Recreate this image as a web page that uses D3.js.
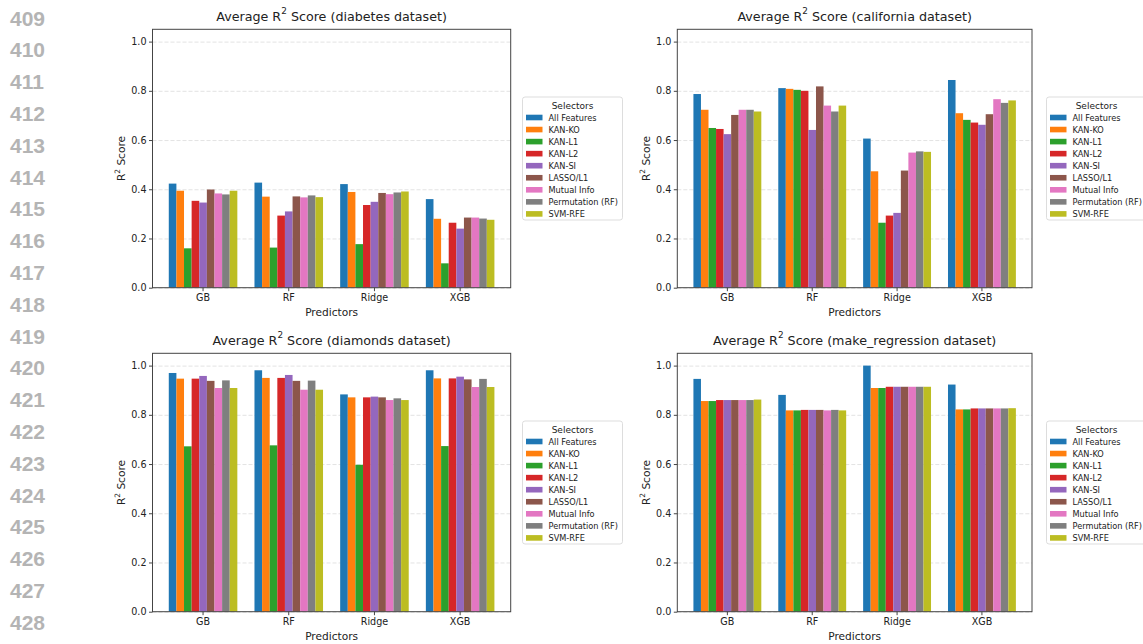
<!DOCTYPE html>
<html>
<head>
<meta charset="utf-8">
<script src="https://cdn.jsdelivr.net/npm/d3@7"></script>
<style>
  body { margin: 0; background: #fff; }
  svg { display: block; }
  .axis text { font-family: "DejaVu Sans", sans-serif; fill: #222; }
  .axis line { stroke: #444; }
  .axis .domain { display: none; }
  .grid line { stroke: #dcdcdc; stroke-width: 0.8; stroke-dasharray: 4,2; }
  .grid .domain, .grid text { display: none; }
</style>
</head>
<body>
<script>
// ---- data ----
const predictors = ["GB", "RF", "Ridge", "XGB"];
const selectors = ["All Features", "KAN-KO", "KAN-L1", "KAN-L2", "KAN-SI",
  "LASSO/L1", "Mutual Info", "Permutation (RF)", "SVM-RFE"];
const yTicks = [0.0, 0.2, 0.4, 0.6, 0.8, 1.0];

// one row per predictor, one value per selector
const diabetesScores = [
  [0.423, 0.394, 0.160, 0.353, 0.346, 0.399, 0.383, 0.379, 0.394],
  [0.427, 0.370, 0.163, 0.293, 0.310, 0.371, 0.367, 0.375, 0.368],
  [0.421, 0.389, 0.177, 0.336, 0.349, 0.385, 0.380, 0.387, 0.391],
  [0.360, 0.280, 0.099, 0.264, 0.240, 0.285, 0.285, 0.281, 0.276]
];
const californiaScores = [
  [0.787, 0.723, 0.649, 0.645, 0.624, 0.702, 0.723, 0.723, 0.716],
  [0.811, 0.808, 0.804, 0.800, 0.641, 0.818, 0.740, 0.716, 0.740],
  [0.606, 0.473, 0.264, 0.293, 0.304, 0.476, 0.549, 0.554, 0.552],
  [0.844, 0.709, 0.682, 0.671, 0.662, 0.705, 0.766, 0.751, 0.761]
];
const diamondsScores = [
  [0.970, 0.947, 0.672, 0.947, 0.958, 0.938, 0.909, 0.940, 0.909],
  [0.981, 0.950, 0.676, 0.950, 0.962, 0.938, 0.902, 0.939, 0.902],
  [0.883, 0.871, 0.597, 0.871, 0.874, 0.871, 0.860, 0.867, 0.860],
  [0.981, 0.948, 0.673, 0.948, 0.955, 0.944, 0.913, 0.946, 0.913]
];
const makeRegressionScores = [
  [0.946, 0.856, 0.856, 0.860, 0.860, 0.860, 0.860, 0.860, 0.862],
  [0.881, 0.818, 0.818, 0.820, 0.820, 0.820, 0.818, 0.820, 0.818],
  [1.000, 0.909, 0.909, 0.914, 0.914, 0.914, 0.914, 0.914, 0.914],
  [0.923, 0.822, 0.822, 0.826, 0.826, 0.826, 0.826, 0.826, 0.827]
];
const datasetNames = ["diabetes", "california", "diamonds", "make_regression"];
const lineNumbers = d3.range(409, 429);

const colors = ["#1f77b4", "#ff7f0e", "#2ca02c", "#d62728", "#9467bd",
  "#8c564b", "#e377c2", "#7f7f7f", "#bcbd22"];

// ---- layout ----
const W = 1143, H = 644;
const svg = d3.select("body").append("svg").attr("width", W).attr("height", H);

// page line numbers
svg.append("g").selectAll("text")
  .data(lineNumbers)
  .join("text")
  .attr("x", 10)
  .attr("y", (d, i) => 18 + i * 31.8)
  .attr("dominant-baseline", "central")
  .style("font-family", "'Liberation Sans', Arial, sans-serif")
  .style("font-weight", "bold")
  .style("font-size", "21px")
  .style("fill", "#b4b4b4")
  .text(d => d);

const panels = [
  { name: datasetNames[0], values: diabetesScores, left: 152.5, right: 510.7, top: 29.3, bottom: 287.7, legendX: 522.5 },
  { name: datasetNames[1], values: californiaScores, left: 677.3, right: 1032, top: 29.3, bottom: 287.7, legendX: 1046.5 },
  { name: datasetNames[2], values: diamondsScores, left: 152.5, right: 510.7, top: 353.3, bottom: 611.7, legendX: 522.5 },
  { name: datasetNames[3], values: makeRegressionScores, left: 677.3, right: 1032, top: 353.3, bottom: 611.7, legendX: 1046.5 }
];

panels.forEach(drawPanel);

function drawPanel(p) {
  const w = p.right - p.left, h = p.bottom - p.top;
  const g = svg.append("g").attr("transform", `translate(${p.left},${p.top})`);

  const x = d3.scaleBand().domain(predictors).range([0, w])
    .paddingInner(0.2).paddingOuter(0.19);
  const xs = d3.scaleBand().domain(selectors).range([0, x.bandwidth()]).padding(0);
  const y = d3.scaleLinear().domain([0, 1.05]).range([h, 0]);

  // grid
  g.append("g").attr("class", "grid")
    .call(d3.axisLeft(y).tickValues(yTicks).tickSize(-w).tickFormat(""));

  // bars
  g.append("g").selectAll("g")
    .data(predictors)
    .join("g")
    .attr("transform", d => `translate(${x(d)},0)`)
    .selectAll("rect")
    .data((d, i) => selectors.map((s, j) => ({ s, j, v: p.values[i][j] })))
    .join("rect")
    .attr("x", d => xs(d.s))
    .attr("width", xs.bandwidth())
    .attr("y", d => y(d.v))
    .attr("height", d => y(0) - y(d.v))
    .attr("fill", d => colors[d.j]);

  // frame
  g.append("rect").attr("width", w).attr("height", h)
    .attr("fill", "none").attr("stroke", "#444").attr("stroke-width", 1);

  // axes
  g.append("g").attr("class", "axis")
    .call(d3.axisLeft(y).tickValues(yTicks).tickFormat(d3.format(".1f")).tickSize(3.5).tickPadding(2.5))
    .selectAll("text").style("font-size", "9.6px");

  g.append("g").attr("class", "axis")
    .attr("transform", `translate(0,${h})`)
    .call(d3.axisBottom(x).tickSize(3.5).tickPadding(3))
    .selectAll("text").style("font-size", "9.6px");

  // labels
  g.append("text")
    .attr("x", w / 2).attr("y", h + 24.5)
    .attr("text-anchor", "middle").attr("dominant-baseline", "central")
    .style("font-family", "'DejaVu Sans', sans-serif").style("font-size", "10.6px").style("fill", "#222")
    .text("Predictors");

  const yl = g.append("text")
    .attr("transform", `translate(-31.5,${h / 2}) rotate(-90)`)
    .attr("text-anchor", "middle").attr("dominant-baseline", "central")
    .style("font-family", "'DejaVu Sans', sans-serif").style("font-size", "10.6px").style("fill", "#222");
  yl.append("tspan").text("R");
  yl.append("tspan").attr("dy", -4).style("font-size", "7.4px").text("2");
  yl.append("tspan").attr("dy", 4).text(" Score");

  const title = g.append("text")
    .attr("x", w / 2).attr("y", -13.5)
    .attr("text-anchor", "middle").attr("dominant-baseline", "central")
    .style("font-family", "'DejaVu Sans', sans-serif").style("font-size", "12.7px").style("fill", "#222");
  title.append("tspan").text("Average R");
  title.append("tspan").attr("dy", -5).style("font-size", "8.9px").text("2");
  title.append("tspan").attr("dy", 5).text(` Score (${p.name} dataset)`);

  // legend
  const lgH = 123, lgW = 100;
  const lg = svg.append("g")
    .attr("transform", `translate(${p.legendX},${p.top + h / 2 - lgH / 2})`);
  lg.append("rect").attr("width", lgW).attr("height", lgH).attr("rx", 2.5)
    .attr("fill", "#fff").attr("stroke", "#d4d4d4").attr("stroke-width", 0.8);
  lg.append("text").attr("x", lgW / 2).attr("y", 8.5)
    .attr("text-anchor", "middle").attr("dominant-baseline", "central")
    .style("font-family", "'DejaVu Sans', sans-serif").style("font-size", "9px").style("fill", "#222")
    .text("Selectors");
  const item = lg.selectAll("g.item").data(selectors).join("g")
    .attr("class", "item")
    .attr("transform", (d, i) => `translate(0,${20.5 + i * 12.05})`);
  item.append("rect").attr("x", 3.5).attr("y", -2.8).attr("width", 16.5).attr("height", 5.6)
    .attr("fill", (d, i) => colors[i]);
  item.append("text").attr("x", 26).attr("y", 0)
    .attr("dominant-baseline", "central")
    .style("font-family", "'DejaVu Sans', sans-serif").style("font-size", "8.2px").style("fill", "#222")
    .text(d => d);
}
</script>
</body>
</html>
